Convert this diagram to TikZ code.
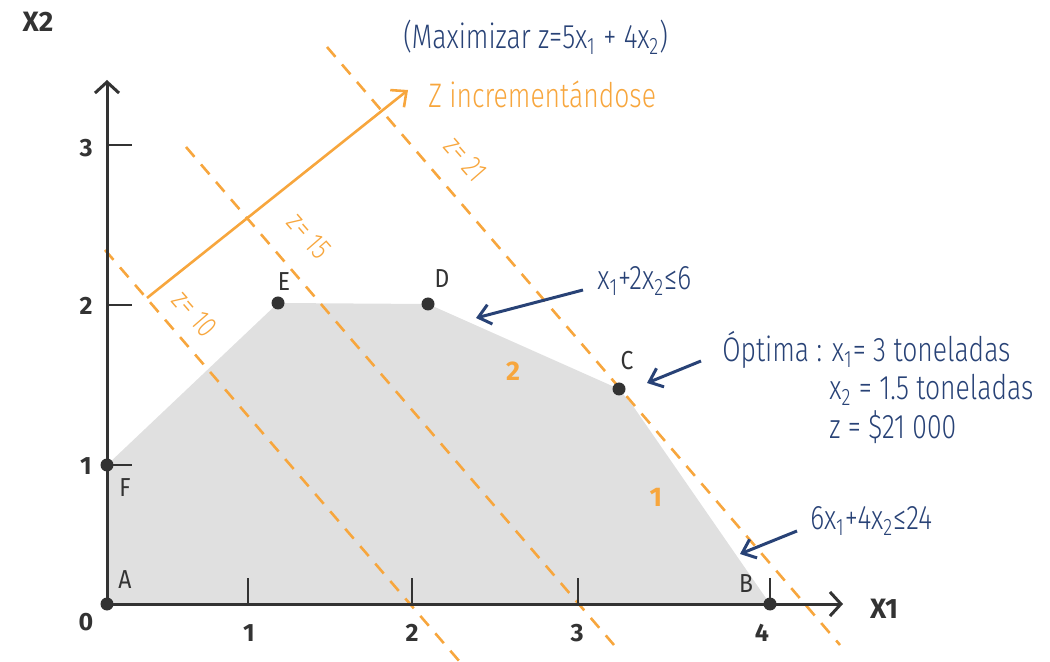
\documentclass[tikz,border=0pt]{standalone}
\usepackage{fontspec}
\usetikzlibrary{arrows.meta, positioning, calc}
\setmainfont{Fira Sans}
\newfontfamily\lightfont{Fira Sans Light}[FakeStretch=0.78]
\newfontfamily\condfont{Fira Sans}[FakeStretch=0.88]
\definecolor{pmorange}{RGB}{247,166,61}
\definecolor{pmblue}{RGB}{40,66,118}
\definecolor{pmdark}{RGB}{51,51,51}
\definecolor{pmgray}{RGB}{224,224,224}

\tikzset{
  axis/.style={draw=pmdark, line width=1.5pt, -{Straight Barb[length=5.5pt,width=12pt]}},
  tickmark/.style={draw=pmdark, line width=1.4pt},
  vertex/.style={circle, fill=pmdark, inner sep=0pt, minimum size=6.5pt},
  isoline/.style={draw=pmorange, line width=1.3pt, dash pattern=on 6.5pt off 5pt},
  callout/.style={draw=pmblue, line width=1.5pt, -{Straight Barb[length=6pt,width=10pt]}},
  numlabel/.style={text=pmdark, font=\bfseries\fontsize{12.5}{14}\selectfont},
  ptlabel/.style={text=pmdark, font=\condfont\fontsize{13}{15}\selectfont},
  bluetext/.style={text=pmblue, font=\lightfont\fontsize{17}{20}\selectfont, anchor=base west, inner sep=0pt},
  zlabel/.style={text=pmorange, font=\lightfont\fontsize{15}{17}\selectfont, rotate=-49, inner sep=0pt}
}

\begin{document}
\begin{tikzpicture}[x=0.5pt, y=-0.5pt]
  \useasboundingbox (0,0) rectangle (1050,662);

  % vertices of the feasible region
  \coordinate (pA) at (107,604);
  \coordinate (pF) at (107,465);
  \coordinate (pE) at (278,303);
  \coordinate (pD) at (428,304);
  \coordinate (pC) at (619,389);
  \coordinate (pK) at (633,406);
  \coordinate (pB) at (770,604);

  \fill[pmgray] (pA) -- (pF) -- (pE) -- (pD) -- (pC) -- (pK) -- (pB) -- cycle;

  % iso-profit lines
  \coordinate (z10a) at (105,250);
  \coordinate (z10b) at (460,662);
  \coordinate (z15a) at (186,147);
  \coordinate (z15b) at (614,645);
  \coordinate (z21a) at (327,47);
  \coordinate (z21b) at (840,645);
  \draw[isoline] (z10a) -- (z10b);
  \draw[isoline] (z15a) -- (z15b);
  \draw[isoline] (z21a) -- (z21b);

  \node[zlabel] (lz10) at (195,314) {z= 10};
  \node[zlabel] (lz15) at (309,236) {z= 15};
  \node[zlabel] (lz21) at (466,159) {z= 21};

  % direction of growth
  \coordinate (grow0) at (147,298);
  \coordinate (grow1) at (408,90);
  \draw[pmorange, line width=1.3pt, -{Straight Barb[length=6pt,width=11pt]}] (grow0) -- (grow1);
  \node[bluetext, text=pmorange] (growtxt) at (428,108) {Z incrementándose};
  \node[bluetext] (objtxt) at (403,49) {(Maximizar z=5x\textsubscript{1} + 4x\textsubscript{2})};

  % axes
  \coordinate (xend) at (843,604);
  \coordinate (yend) at (107,80);
  \draw[axis] (pA) -- (xend);
  \draw[axis] (pA) -- (yend);
  \foreach \xp in {248,412,578,770}
    \draw[tickmark] (\xp,604) -- (\xp,578);
  \foreach \yp in {145,305,465}
    \draw[tickmark] (107,\yp) -- (132,\yp);

  \node[numlabel] (ax0) at (86,622) {0};
  \node[numlabel] (ax1) at (249,633) {1};
  \node[numlabel] (ax2) at (412,633) {2};
  \node[numlabel] (ax3) at (577,633) {3};
  \node[numlabel] (ax4) at (762,633) {4};
  \node[numlabel] (ay1) at (86,466) {1};
  \node[numlabel] (ay2) at (86,306) {2};
  \node[numlabel] (ay3) at (86,148) {3};
  \node[numlabel, font=\bfseries\fontsize{14}{16}\selectfont] (xtwo) at (38,22) {X2};
  \node[numlabel, font=\bfseries\fontsize{14}{16}\selectfont] (xone) at (884,609) {X1};

  % corner points
  \foreach \p in {A,F,E,D,C,B}
    \node[vertex] (v\p) at (p\p) {};
  \node[ptlabel] (lA) at (125,580) {A};
  \node[ptlabel] (lF) at (125,488) {F};
  \node[ptlabel] (lE) at (284,282) {E};
  \node[ptlabel] (lD) at (442,279) {D};
  \node[ptlabel] (lC) at (627,361) {C};
  \node[ptlabel] (lB) at (746,584) {B};

  \node[numlabel, text=pmorange, font=\bfseries\fontsize{13.5}{15}\selectfont] (reg2) at (513,371) {2};
  \node[numlabel, text=pmorange, font=\bfseries\fontsize{13.5}{15}\selectfont] (reg1) at (656,497) {1};

  % constraints and optimum
  \node[bluetext] (c2txt) at (597,290) {x\textsubscript{1}+2x\textsubscript{2}≤6};
  \node[bluetext] (c1txt) at (810,530) {6x\textsubscript{1}+4x\textsubscript{2}≤24};
  \node[bluetext] (opt1) at (722,362) {Óptima : x\textsubscript{1}= 3 toneladas};
  \node[bluetext] (opt2) at (829,400) {x\textsubscript{2} = 1.5 toneladas};
  \node[bluetext] (opt3) at (829,439) {z = \$21 000};

  \coordinate (c2tail) at (583,290);
  \coordinate (c2head) at (476,318);
  \coordinate (opttail) at (701,361);
  \coordinate (opthead) at (647,383);
  \coordinate (c1tail) at (797,531);
  \coordinate (c1head) at (740,554);
  \draw[callout] (c2tail) -- (c2head);
  \draw[callout] (opttail) -- (opthead);
  \draw[callout] (c1tail) -- (c1head);
\end{tikzpicture}
\end{document}
